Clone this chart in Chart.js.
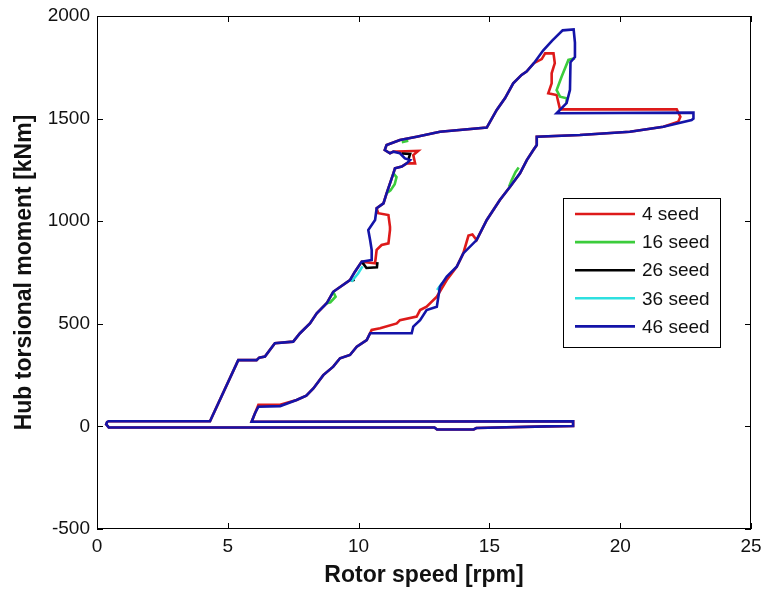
<!DOCTYPE html>
<html>
<head>
<meta charset="utf-8">
<script src="https://cdn.jsdelivr.net/npm/chart.js@4/dist/chart.umd.min.js"></script>
<style>
  html, body { margin: 0; padding: 0; background: #fff; }
  #wrap { width: 763px; height: 593px; position: relative; }
</style>
</head>
<body>
<div id="wrap"><canvas id="hubChart"></canvas></div>
<script>
// Axis ticks
const xTicks = [0, 5, 10, 15, 20, 25];
const yTicks = [-500, 0, 500, 1000, 1500, 2000];

const seedLabels = ['4 seed', '16 seed', '26 seed', '36 seed', '46 seed'];
const seedColors = ['#dd1a1a', '#3ccc3c', '#000000', '#2ee0e0', '#1414a8'];

// 46 seed - full loop (drawn on top)
const speed46 = [0.40, 4.32, 5.40, 6.10, 6.20, 6.42, 6.80, 7.50, 7.76, 8.14, 8.40, 8.78, 9.03, 9.67, 9.86, 10.12,
  10.50, 10.50, 10.44, 10.37, 10.63, 10.69, 10.95, 11.07, 11.33, 11.39, 11.65, 11.84, 11.97, 11.77, 11.58, 11.33,
  11.20, 11.00, 11.07, 11.58, 12.22, 13.11, 14.90, 15.28, 15.60, 15.91, 16.23, 16.42, 16.70, 17.06, 17.40, 17.80,
  18.22, 18.27, 18.27, 18.10, 18.08, 17.95, 17.57, 22.80, 22.80, 22.73, 21.65, 20.37, 18.46, 16.81, 16.81, 16.68,
  16.43, 16.17, 15.79, 15.40, 14.90, 14.51, 14.00, 13.75, 13.37, 13.11, 12.99, 12.60, 12.35, 12.09, 12.03, 10.44,
  10.31, 9.93, 9.67, 9.29, 9.03, 8.65, 8.27, 8.00, 7.63, 7.00, 6.17, 6.04, 5.91, 18.20, 18.20, 17.20, 14.50, 14.40,
  13.00, 12.90, 0.45, 0.35, 0.40];
const torque46 = [25, 25, 323, 323, 335, 340, 405, 413, 454, 502, 551, 600, 656, 713, 754, 803,
  811, 860, 908, 957, 1006, 1063, 1087, 1136, 1233, 1258, 1266, 1282, 1298, 1306, 1331, 1339,
  1331, 1347, 1371, 1396, 1412, 1436, 1456, 1542, 1600, 1672, 1713, 1729, 1770, 1833, 1880, 1930,
  1935, 1870, 1800, 1775, 1640, 1575, 1526, 1529, 1500, 1493, 1460, 1436, 1420, 1412, 1371, 1347,
  1298, 1233, 1168, 1103, 1006, 908, 843, 778, 730, 681, 583, 567, 518, 486, 454, 454,
  421, 388, 348, 332, 291, 250, 185, 150, 129, 99, 96, 64, 23, 25, 2, 0, -8, -15,
  -15, -5, -5, 10, 25];

// 4 seed - full loop
const speed4 = [0.40, 4.32, 5.40, 6.10, 6.20, 6.42, 6.80, 7.50, 7.76, 8.14, 8.40, 8.78, 9.03, 9.67, 9.86, 10.12,
  10.63, 10.69, 10.88, 11.14, 11.20, 11.20, 11.14, 10.75, 10.69, 10.95, 11.07, 11.33, 11.39, 11.65, 11.84, 12.16,
  12.09, 12.28, 11.46, 11.33, 11.20, 11.00, 11.07, 11.58, 12.22, 13.11, 14.90, 15.28, 15.60, 15.91, 16.23, 16.42,
  16.70, 17.00, 17.13, 17.45, 17.50, 17.38, 17.38, 17.25, 17.57, 17.70, 22.16, 22.30, 22.22, 21.65, 20.37, 18.46,
  16.81, 16.81, 16.68, 16.43, 16.17, 15.79, 15.40, 14.90, 14.51, 14.35, 14.20, 14.00, 13.75, 13.37, 12.99, 12.60,
  12.35, 12.22, 11.58, 11.46, 10.82, 10.50, 10.31, 9.93, 9.67, 9.29, 9.03, 8.65, 8.27, 8.00, 7.63, 7.00, 6.17,
  6.04, 5.91, 18.20, 18.20, 17.20, 14.50, 14.40, 13.00, 12.90, 0.45, 0.35, 0.40];
const torque4 = [25, 25, 323, 323, 335, 340, 405, 413, 454, 502, 551, 600, 656, 713, 754, 803,
  795, 860, 884, 892, 957, 973, 1030, 1039, 1063, 1087, 1136, 1233, 1258, 1266, 1282, 1282,
  1322, 1343, 1339, 1339, 1331, 1347, 1371, 1396, 1412, 1436, 1456, 1542, 1600, 1672, 1713, 1729,
  1770, 1790, 1818, 1818, 1770, 1721, 1672, 1623, 1615, 1545, 1545, 1509, 1485, 1460, 1436, 1420,
  1412, 1371, 1347, 1298, 1233, 1168, 1103, 1006, 908, 935, 930, 843, 778, 713, 632, 583,
  567, 535, 518, 502, 478, 470, 421, 388, 348, 332, 291, 250, 185, 150, 129, 105, 105,
  64, 23, 25, 2, 0, -8, -15, -15, -5, -5, 10, 25];

// 16, 26, 36 seed: only the stretches where they leave the 46 seed curve (null = break)
const speed16 = [18.27, 18.02, 17.76, 17.57, 17.70, 17.95, 17.95, null,
  15.75, 15.85, 16.00, 16.12, null,
  11.07, 11.22, 11.38, 11.45, 11.33, null,
  8.78, 8.92, 9.12, 9.03, null,
  11.65, 11.90];
const torque16 = [1794, 1786, 1704, 1639, 1607, 1599, 1575, null,
  1168, 1200, 1240, 1262, null,
  1136, 1150, 1180, 1215, 1233, null,
  600, 605, 632, 656, null,
  1385, 1392];

const speed26 = [10.12, 10.30, 10.70, 10.72, null,
  11.65, 11.97, 11.90, null,
  9.70, 9.85];
const torque26 = [803, 772, 775, 800, null,
  1330, 1328, 1300, null,
  710, 715];

const speed36 = [9.72, 9.98, 10.15, null,
  13.00, 13.20];
const torque36 = [705, 745, 780, null,
  665, 700];

function toPoints(xs, ys) {
  return xs.map((x, i) => (x === null ? { x: null, y: null } : { x: x, y: ys[i] }));
}

const seriesX = [speed4, speed16, speed26, speed36, speed46];
const seriesY = [torque4, torque16, torque26, torque36, torque46];

const datasets = seedLabels.map((label, i) => ({
  label: label,
  data: toPoints(seriesX[i], seriesY[i]),
  borderColor: seedColors[i],
  backgroundColor: seedColors[i],
  borderWidth: 2.6,
  pointRadius: 0,
  showLine: true,
  spanGaps: false,
  tension: 0,
  order: seedLabels.length - i   // 46 seed drawn last, on top
}));

const fontFamily = "'Liberation Sans', Arial, sans-serif";

// box, inward ticks and legend inside the axes, matlab style
const matlabAxes = {
  id: 'matlabAxes',
  afterDraw(chart) {
    const { ctx, chartArea: a, scales } = chart;
    ctx.save();
    ctx.strokeStyle = '#000';
    ctx.lineWidth = 1;
    ctx.strokeRect(a.left + 0.5, a.top + 0.5, a.right - a.left - 1, a.bottom - a.top - 1);
    ctx.beginPath();
    xTicks.forEach(v => {
      const px = Math.round(scales.x.getPixelForValue(v)) + 0.5;
      ctx.moveTo(px, a.bottom); ctx.lineTo(px, a.bottom - 6);
      ctx.moveTo(px, a.top); ctx.lineTo(px, a.top + 6);
    });
    yTicks.forEach(v => {
      const py = Math.round(scales.y.getPixelForValue(v)) + 0.5;
      ctx.moveTo(a.left, py); ctx.lineTo(a.left + 6, py);
      ctx.moveTo(a.right, py); ctx.lineTo(a.right - 6, py);
    });
    ctx.stroke();

    // legend
    const lx = 563, ly = 198, lw = 157, lh = 149, rowH = 28.1;
    ctx.fillStyle = '#fff';
    ctx.fillRect(lx, ly, lw, lh);
    ctx.strokeRect(lx + 0.5, ly + 0.5, lw, lh);
    ctx.font = '19px ' + fontFamily;
    ctx.textBaseline = 'middle';
    chart.data.datasets.forEach((ds, i) => {
      const y = ly + 16 + i * rowH;
      ctx.strokeStyle = ds.borderColor;
      ctx.lineWidth = 2.6;
      ctx.beginPath();
      ctx.moveTo(lx + 12, y); ctx.lineTo(lx + 72, y);
      ctx.stroke();
      ctx.fillStyle = '#111';
      ctx.fillText(ds.label, lx + 79, y + 1);
    });
    ctx.restore();
  }
};

new Chart(document.getElementById('hubChart'), {
  type: 'scatter',
  data: { datasets: datasets },
  options: {
    responsive: true,
    maintainAspectRatio: false,
    animation: false,
    layout: { padding: { left: 0, right: 12, top: 16, bottom: 0 } },
    plugins: {
      legend: { display: false },
      tooltip: { enabled: false }
    },
    scales: {
      x: {
        type: 'linear',
        min: 0, max: 25,
        afterBuildTicks: s => { s.ticks = xTicks.map(v => ({ value: v })); },
        afterFit: s => { s.height = 64; s.paddingLeft = 0; s.paddingRight = 0; },
        grid: { display: false, drawTicks: false },
        border: { display: false },
        ticks: { color: '#111', font: { family: fontFamily, size: 19 }, padding: 6, callback: v => String(v) },
        title: {
          display: true, text: 'Rotor speed [rpm]', color: '#111',
          font: { family: fontFamily, size: 23, weight: 'bold' },
          padding: { top: 0, bottom: 4 }
        }
      },
      y: {
        type: 'linear',
        min: -500, max: 2000,
        afterBuildTicks: s => { s.ticks = yTicks.map(v => ({ value: v })); },
        afterFit: s => { s.width = 97; s.paddingTop = 0; s.paddingBottom = 0; },
        grid: { display: false, drawTicks: false },
        border: { display: false },
        ticks: { color: '#111', font: { family: fontFamily, size: 19 }, padding: 7, callback: v => String(v) },
        title: {
          display: true, text: 'Hub torsional moment [kNm]', color: '#111',
          font: { family: fontFamily, size: 23, weight: 'bold' },
          padding: { top: 11, bottom: 0 }
        }
      }
    }
  },
  plugins: [matlabAxes]
});
</script>
</body>
</html>
